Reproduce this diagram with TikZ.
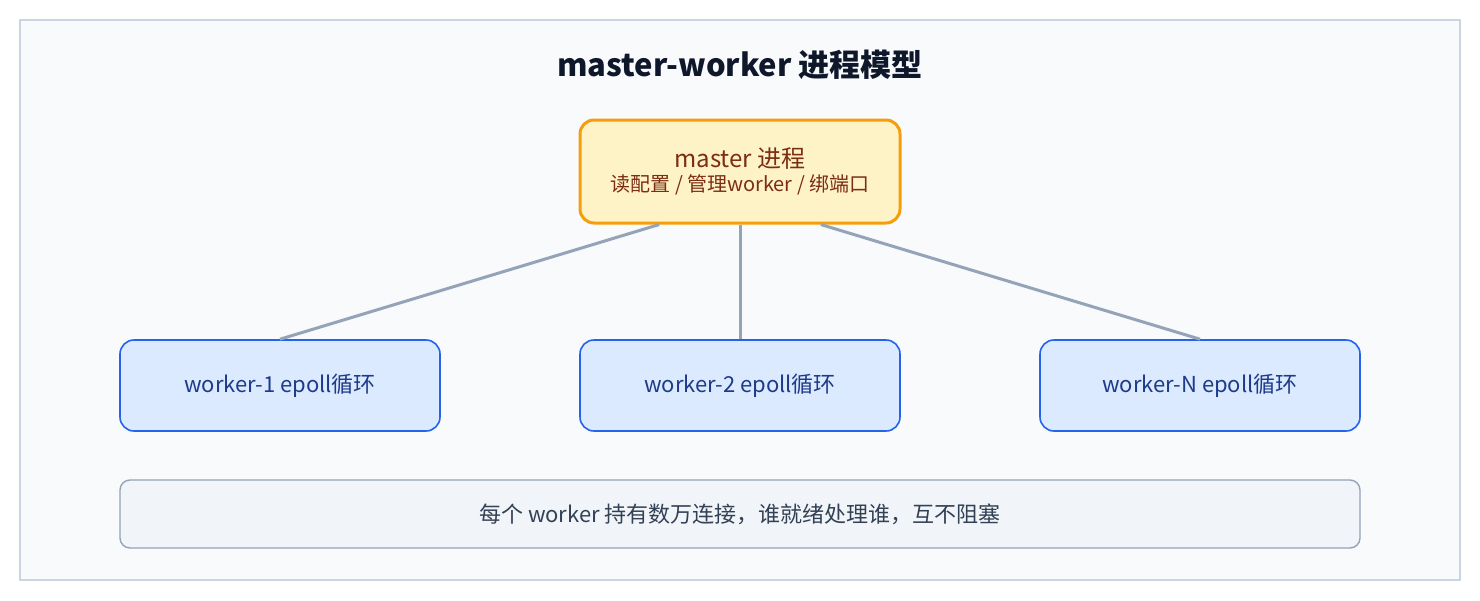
\documentclass[tikz,border=0pt]{standalone}
\usepackage{fontspec}
\setmainfont{Noto Sans CJK SC}
\usetikzlibrary{positioning,calc}
\definecolor{panelbg}{HTML}{F8FAFC}
\definecolor{panelline}{HTML}{CBD5E1}
\definecolor{titlecol}{HTML}{0F172A}
\definecolor{masterbg}{HTML}{FEF3C7}
\definecolor{masterline}{HTML}{F59E0B}
\definecolor{mastertext}{HTML}{7C2D12}
\definecolor{workerbg}{HTML}{DBEAFE}
\definecolor{workerline}{HTML}{2563EB}
\definecolor{workertext}{HTML}{1E3A8A}
\definecolor{linkcol}{HTML}{94A3B8}
\definecolor{notebg}{HTML}{F1F5F9}
\definecolor{notetext}{HTML}{334155}

\tikzset{
  worker/.style={draw=workerline, line width=1.6pt, fill=workerbg, rounded corners=14pt,
    minimum width=320pt, minimum height=91pt, text=workertext, font=\fontsize{22}{26}\selectfont},
  link/.style={draw=linkcol, line width=3pt}
}

\begin{document}
\begin{tikzpicture}[x=1pt, y=-1pt]
      \useasboundingbox (0,0) rectangle (1480,600);
      \draw[panelline, fill=panelbg, line width=1.2pt] (20,20) rectangle (1460,580);
      \node[text=titlecol, font=\fontsize{31}{36}\selectfont\bfseries] (title) at (740,65) {master-worker 进程模型};
      % master
      \node[draw=masterline, line width=3pt, fill=masterbg, rounded corners=14pt,
        minimum width=320pt, minimum height=103pt, text=mastertext, align=center] (master) at (740,171.5)
        {{\fontsize{24}{28}\selectfont master 进程}\\[4pt]{\fontsize{20}{24}\selectfont 读配置 / 管理worker / 绑端口}};
      % workers
      \node[worker] (w1) at (280,385.5) {worker-1 epoll循环};
      \node[worker] (w2) at (740,385.5) {worker-2 epoll循环};
      \node[worker] (wn) at (1200,385.5) {worker-N epoll循环};
      \draw[link] ($(master.south west)!0.25!(master.south east)$) -- (w1.north);
      \draw[link] (master.south) -- (w2.north);
      \draw[link] ($(master.south west)!0.75!(master.south east)$) -- (wn.north);
      % note
      \node[draw=linkcol, line width=1.4pt, fill=notebg, rounded corners=10pt,
        minimum width=1240pt, minimum height=68pt, text=notetext, font=\fontsize{22}{26}\selectfont] (note) at (740,514)
        {每个 worker 持有数万连接，谁就绪处理谁，互不阻塞};
\end{tikzpicture}
\end{document}
